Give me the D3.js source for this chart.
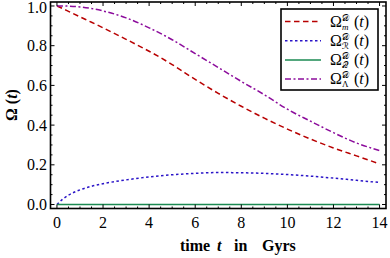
<!DOCTYPE html>
<html>
<head>
<meta charset="utf-8">
<script src="https://cdn.jsdelivr.net/npm/d3@7"></script>
<style>
body{margin:0;background:#fff}
text{font-family:"Liberation Serif","DejaVu Serif",serif}
.script{font-family:"DejaVu Sans","DejaVu Serif",sans-serif}
</style>
</head>
<body>
<svg id="chart" width="390" height="258"></svg>
<script>

let times = [0, 0.25, 0.5, 1, 1.5, 2, 3, 4, 5, 6, 7, 8, 9, 10, 11, 12, 13, 14]

let omegaM = [1.0, 0.987, 0.973, 0.945, 0.918, 0.89, 0.832, 0.772, 0.705, 0.63, 0.56, 0.495, 0.435, 0.38, 0.33, 0.285, 0.245, 0.205]
let omegaR = [0.0, 0.027, 0.047, 0.074, 0.092, 0.105, 0.124, 0.139, 0.150, 0.157, 0.161, 0.160, 0.157, 0.151, 0.143, 0.133, 0.122, 0.111]
let omegaQ = [0, 0, 0, 0, 0, 0, 0, 0, 0, 0, 0, 0, 0, 0, 0, 0, 0, 0]
let omegaL = [1.0, 1.0, 0.999, 0.995, 0.987, 0.975, 0.94, 0.89, 0.83, 0.76, 0.69, 0.62, 0.553, 0.48, 0.42, 0.362, 0.31, 0.272]

let xTicks = [0, 2, 4, 6, 8, 10, 12, 14]
let yTicks = [0.0, 0.2, 0.4, 0.6, 0.8, 1.0]
let subLabels = ['m', 'ℛ', '𝒬', 'Λ']

let series = [
	{name: 'm', values: omegaM, color: '#b80000', dash: '5.5,3.5'},
	{name: 'R', values: omegaR, color: '#2a14c8', dash: '2.5,2.5'},
	{name: 'Q', values: omegaQ, color: '#1b8a52', dash: null},
	{name: 'L', values: omegaL, color: '#8c0c9c', dash: '6,2.5,2,2.5'}
]

let svg = d3.select('#chart')

let x = d3.scaleLinear().domain([-0.28, 14.28]).range([50.5, 386])
let y = d3.scaleLinear().domain([-0.02, 1.02]).range([208.5, 2])

let line = d3.line()
	.x((d, i) => x(times[i]))
	.y(d => y(d))
	.curve(d3.curveMonotoneX)

svg.selectAll('.curve')
	.data(series)
	.enter()
	.append('path')
	.attr('class', 'curve')
	.attr('d', d => line(d.values))
	.attr('fill', 'none')
	.attr('stroke', d => d.color)
	.attr('stroke-width', 1.5)
	.attr('stroke-dasharray', d => d.dash)

// frame ticks, inward on all four sides
let xMinor = d3.range(0, 14.01, 0.5)
let yMinor = d3.range(0, 1.001, 0.05)

function tickLen(v, major){
	return major.some(m => Math.abs(m - v) < 1e-6) ? 4 : 2
}

let ticks = svg.append('g').attr('stroke', 'black').attr('stroke-width', 1)

ticks.selectAll('.xb').data(xMinor).enter().append('line')
	.attr('x1', d => x(d)).attr('x2', d => x(d))
	.attr('y1', 208.5).attr('y2', d => 208.5 - tickLen(d, xTicks))
ticks.selectAll('.xt').data(xMinor).enter().append('line')
	.attr('x1', d => x(d)).attr('x2', d => x(d))
	.attr('y1', 2).attr('y2', d => 2 + tickLen(d, xTicks))
ticks.selectAll('.yl').data(yMinor).enter().append('line')
	.attr('y1', d => y(d)).attr('y2', d => y(d))
	.attr('x1', 50.5).attr('x2', d => 50.5 + tickLen(d, yTicks))
ticks.selectAll('.yr').data(yMinor).enter().append('line')
	.attr('y1', d => y(d)).attr('y2', d => y(d))
	.attr('x1', 386).attr('x2', d => 386 - tickLen(d, yTicks))

svg.append('rect')
	.attr('x', 50.5).attr('y', 2)
	.attr('width', 386 - 50.5).attr('height', 208.5 - 2)
	.attr('fill', 'none').attr('stroke', 'black').attr('stroke-width', 1.6)

svg.selectAll('.xlab')
	.data(xTicks)
	.enter()
	.append('text')
	.text(d => d)
	.attr('x', d => x(d))
	.attr('y', 228)
	.attr('text-anchor', 'middle')
	.attr('font-size', 16)

svg.selectAll('.ylab')
	.data(yTicks)
	.enter()
	.append('text')
	.text(d => d.toFixed(1))
	.attr('x', 47)
	.attr('y', d => y(d) + 5.5)
	.attr('text-anchor', 'end')
	.attr('font-size', 16)
	.attr('dy', d => d == 1 ? 2 : 0)

let xTitle = svg.append('text')
	.attr('y', 251)
	.attr('font-size', 16)
	.attr('font-weight', 'bold')
xTitle.append('tspan').attr('x', 180).text('time')
xTitle.append('tspan').attr('x', 217).attr('font-style', 'italic').text('t')
xTitle.append('tspan').attr('x', 234).text('in')
xTitle.append('tspan').attr('x', 262).text('Gyrs')

let yTitle = svg.append('text')
	.attr('transform', 'translate(17,105) rotate(-90)')
	.attr('text-anchor', 'middle')
	.attr('font-size', 16)
	.attr('font-weight', 'bold')
yTitle.append('tspan').text('Ω (')
yTitle.append('tspan').attr('font-style', 'italic').text('t')
yTitle.append('tspan').text(')')

// legend
let legend = svg.append('g')

legend.append('rect')
	.attr('x', 281).attr('y', 9)
	.attr('width', 97).attr('height', 81)
	.attr('fill', 'white').attr('stroke', 'black').attr('stroke-width', 1.6)

let entries = legend.selectAll('.entry')
	.data(series)
	.enter()
	.append('g')
	.attr('transform', (d, i) => 'translate(0,' + (21.5 + i * 19.2) + ')')

entries.append('line')
	.attr('x1', 285).attr('x2', 321)
	.attr('stroke', d => d.color)
	.attr('stroke-width', 1.5)
	.attr('stroke-dasharray', d => d.dash)

let labels = entries.append('text')
	.attr('x', 330).attr('y', 5)
	.attr('font-size', 16)

labels.append('tspan').text('Ω')
labels.append('tspan')
	.attr('class', 'script')
	.attr('x', 342).attr('y', -1)
	.attr('font-size', 9)
	.text('𝒟')
labels.append('tspan')
	.attr('x', 342).attr('y', 8)
	.attr('font-size', 9)
	.attr('class', (d, i) => i == 1 || i == 2 ? 'script' : null)
	.attr('font-style', (d, i) => i == 0 ? 'italic' : 'normal')
	.text((d, i) => subLabels[i])
labels.append('tspan').attr('x', 354).attr('y', 5).text('(')
labels.append('tspan').attr('font-style', 'italic').text('t')
labels.append('tspan').text(')')

</script>
</body>
</html>
